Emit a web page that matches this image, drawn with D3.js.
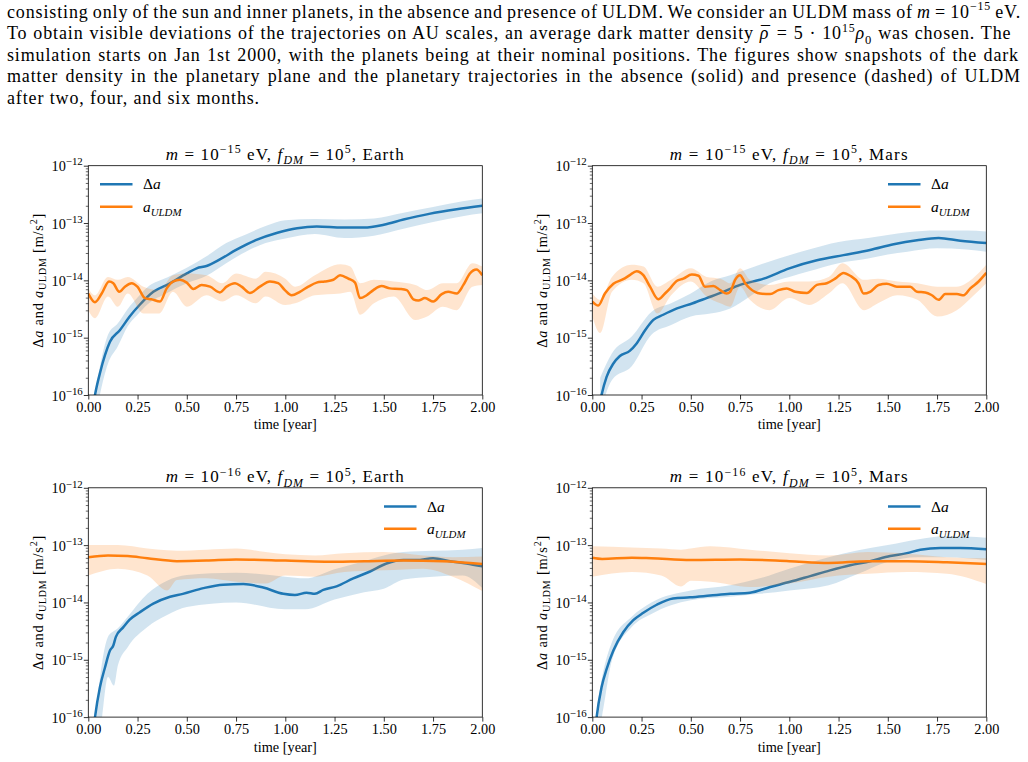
<!DOCTYPE html>
<html>
<head>
<meta charset="utf-8">
<script src="https://cdn.jsdelivr.net/npm/d3@7"></script>
<style>
body { margin: 0; background: #fff; }
svg { display: block; }
text { font-family: "Liberation Serif", "Times New Roman", serif; fill: #000; }
</style>
</head>
<body>
<svg id="fig" width="1028" height="762"></svg>
<script>
// all accelerations are log10 of m/s^2
// lines: [time, log10 a], bands: [time, log10 low, log10 high]
var earth15Delta = [[0.02,-16.3],[0.034,-16.0],[0.059,-15.62],[0.085,-15.3],[0.11,-15.07],[0.16,-14.87],[0.21,-14.63],[0.26,-14.43],[0.33,-14.2],[0.41,-14.06],[0.5,-13.88],[0.55,-13.79],[0.6,-13.75],[0.67,-13.63],[0.75,-13.47],[0.85,-13.3],[0.96,-13.17],[1.06,-13.09],[1.16,-13.06],[1.29,-13.08],[1.4,-13.08],[1.5,-13.03],[1.6,-12.94],[1.73,-12.84],[1.87,-12.76],[2.0,-12.7]];
var earth15DeltaBand = [[0.04,-16.3,-15.85],[0.1,-15.45,-14.95],[0.15,-15.15,-14.75],[0.2,-14.8,-14.5],[0.25,-14.6,-14.3],[0.3,-14.42,-14.12],[0.4,-14.22,-13.95],[0.5,-14.05,-13.78],[0.6,-13.92,-13.58],[0.7,-13.7,-13.35],[0.8,-13.5,-13.2],[0.9,-13.35,-13.05],[1.0,-13.27,-12.95],[1.15,-13.19,-12.93],[1.3,-13.26,-12.94],[1.45,-13.22,-12.92],[1.6,-13.1,-12.82],[1.75,-12.98,-12.72],[1.9,-12.88,-12.62],[2.0,-12.83,-12.57]];
var earth15Uldm = [[0,-14.23],[0.034,-14.38],[0.068,-14.23],[0.105,-14.02],[0.127,-14.05],[0.157,-14.2],[0.186,-14.11],[0.22,-14.05],[0.249,-14.11],[0.288,-14.31],[0.32,-14.33],[0.364,-14.37],[0.398,-14.14],[0.431,-14.02],[0.465,-13.99],[0.5,-14.04],[0.533,-14.15],[0.575,-14.08],[0.618,-14.11],[0.668,-14.21],[0.702,-14.11],[0.745,-14.05],[0.778,-14.11],[0.82,-14.22],[0.871,-14.11],[0.922,-14.02],[0.964,-14.05],[0.998,-14.17],[1.032,-14.26],[1.074,-14.2],[1.117,-14.11],[1.159,-14.04],[1.2,-14.02],[1.244,-13.99],[1.278,-13.91],[1.32,-13.97],[1.354,-14.04],[1.379,-14.31],[1.413,-14.26],[1.447,-14.17],[1.489,-14.1],[1.531,-14.14],[1.582,-14.15],[1.616,-14.17],[1.65,-14.33],[1.675,-14.35],[1.709,-14.31],[1.751,-14.37],[1.794,-14.24],[1.827,-14.2],[1.87,-14.23],[1.904,-14.08],[1.937,-13.88],[1.97,-13.81],[2.0,-13.91]];
var earth15UldmBand = [[0,-14.52,-14.14],[0.034,-14.66,-14.26],[0.1,-14.28,-13.94],[0.15,-14.46,-13.99],[0.2,-14.23,-13.94],[0.28,-14.58,-14.11],[0.36,-14.58,-14.17],[0.43,-14.2,-13.91],[0.5,-14.46,-13.88],[0.6,-14.26,-13.91],[0.68,-14.37,-14.05],[0.75,-14.26,-13.88],[0.85,-14.4,-13.97],[0.9,-14.28,-13.85],[1.0,-14.43,-13.97],[1.05,-14.4,-14.11],[1.15,-14.26,-13.91],[1.28,-14.23,-13.72],[1.33,-14.2,-13.76],[1.38,-14.6,-14.05],[1.45,-14.4,-13.99],[1.55,-14.28,-14.02],[1.66,-14.69,-14.08],[1.72,-14.63,-14.17],[1.8,-14.46,-14.05],[1.87,-14.52,-14.05],[1.95,-14.11,-13.7],[2.0,-14.08,-13.76]];

var mars15Delta = [[0.03,-16.3],[0.047,-16.0],[0.073,-15.68],[0.107,-15.45],[0.14,-15.32],[0.19,-15.23],[0.225,-15.1],[0.268,-14.87],[0.31,-14.69],[0.36,-14.6],[0.43,-14.49],[0.51,-14.4],[0.58,-14.31],[0.665,-14.2],[0.75,-14.08],[0.87,-13.97],[1.0,-13.79],[1.14,-13.65],[1.275,-13.56],[1.41,-13.47],[1.53,-13.37],[1.648,-13.3],[1.758,-13.26],[1.868,-13.31],[2.0,-13.35]];
var mars15DeltaBand = [[0.04,-16.3,-15.7],[0.1,-15.74,-15.27],[0.2,-15.5,-14.98],[0.3,-14.95,-14.55],[0.4,-14.78,-14.4],[0.5,-14.63,-14.23],[0.6,-14.58,-14.02],[0.7,-14.49,-13.91],[0.8,-14.28,-13.79],[0.9,-14.05,-13.67],[1.0,-13.94,-13.56],[1.1,-13.84,-13.46],[1.25,-13.7,-13.33],[1.4,-13.62,-13.26],[1.5,-13.55,-13.21],[1.6,-13.5,-13.16],[1.75,-13.44,-13.13],[1.9,-13.46,-13.13],[2.0,-13.5,-13.15]];
var mars15Uldm = [[0,-14.37],[0.03,-14.44],[0.064,-14.23],[0.107,-14.06],[0.157,-13.98],[0.19,-13.91],[0.225,-13.84],[0.259,-13.91],[0.293,-14.11],[0.335,-14.33],[0.369,-14.23],[0.395,-14.14],[0.428,-14.01],[0.462,-13.97],[0.505,-13.9],[0.539,-13.92],[0.572,-14.11],[0.615,-14.1],[0.649,-14.17],[0.682,-14.23],[0.7,-14.2],[0.725,-13.99],[0.75,-13.91],[0.776,-14.05],[0.8,-14.14],[0.852,-14.23],[0.903,-14.24],[0.945,-14.17],[0.987,-14.14],[1.03,-14.2],[1.089,-14.22],[1.14,-14.08],[1.19,-14.05],[1.233,-13.97],[1.275,-13.87],[1.309,-13.92],[1.351,-14.05],[1.377,-14.23],[1.41,-14.2],[1.453,-14.08],[1.495,-14.06],[1.546,-14.11],[1.614,-14.11],[1.648,-14.2],[1.69,-14.21],[1.724,-14.26],[1.758,-14.34],[1.792,-14.24],[1.851,-14.24],[1.885,-14.26],[1.919,-14.14],[1.961,-14.02],[2.0,-13.87]];
var mars15UldmBand = [[0,-14.63,-14.23],[0.04,-14.92,-14.34],[0.1,-14.2,-13.94],[0.2,-13.99,-13.73],[0.26,-14.05,-13.76],[0.33,-14.58,-14.11],[0.4,-14.26,-13.99],[0.5,-14.02,-13.79],[0.58,-14.28,-13.94],[0.65,-14.4,-13.97],[0.7,-14.46,-14.05],[0.75,-14.11,-13.79],[0.8,-14.34,-13.99],[0.9,-14.52,-14.08],[1.0,-14.31,-14.02],[1.1,-14.43,-14.02],[1.2,-14.23,-13.94],[1.27,-14.05,-13.7],[1.38,-14.52,-13.99],[1.45,-14.4,-13.97],[1.55,-14.26,-14.02],[1.65,-14.34,-14.05],[1.75,-14.63,-14.11],[1.85,-14.52,-14.11],[1.93,-14.28,-13.97],[2.0,-14.05,-13.73]];

var earth16Delta = [[0.02,-16.4],[0.034,-16.0],[0.059,-15.48],[0.085,-15.13],[0.11,-14.84],[0.127,-14.75],[0.14,-14.6],[0.178,-14.43],[0.21,-14.3],[0.262,-14.17],[0.33,-14.02],[0.415,-13.9],[0.48,-13.85],[0.584,-13.75],[0.685,-13.69],[0.787,-13.68],[0.888,-13.74],[0.99,-13.85],[1.049,-13.87],[1.108,-13.83],[1.15,-13.85],[1.193,-13.78],[1.26,-13.72],[1.345,-13.58],[1.43,-13.46],[1.514,-13.32],[1.6,-13.26],[1.667,-13.26],[1.75,-13.23],[1.836,-13.28],[1.92,-13.32],[2.0,-13.37]];
var earth16DeltaBand = [[0.04,-16.3,-15.9],[0.06,-16.2,-15.3],[0.1,-15.3,-14.6],[0.13,-15.45,-14.5],[0.15,-15.1,-14.45],[0.2,-14.78,-14.25],[0.3,-14.43,-13.85],[0.4,-14.22,-13.62],[0.5,-14.08,-13.52],[0.75,-14.0,-13.48],[1.0,-14.12,-13.55],[1.1,-14.12,-13.58],[1.25,-13.95,-13.42],[1.4,-13.82,-13.28],[1.5,-13.76,-13.18],[1.6,-13.6,-13.12],[1.75,-13.55,-13.1],[1.9,-13.53,-13.08],[2.0,-13.75,-13.05]];
var earth16Uldm = [[0,-13.21],[0.1,-13.18],[0.2,-13.19],[0.3,-13.23],[0.45,-13.28],[0.6,-13.27],[0.75,-13.25],[1.0,-13.27],[1.2,-13.29],[1.4,-13.28],[1.6,-13.27],[1.8,-13.28],[2.0,-13.33]];
var earth16UldmBand = [[0,-13.53,-13.0],[0.15,-13.41,-13.0],[0.3,-13.53,-13.06],[0.4,-13.79,-13.09],[0.45,-13.61,-13.1],[0.6,-13.58,-13.08],[0.75,-13.64,-13.06],[0.9,-13.67,-13.12],[1.0,-13.53,-13.16],[1.15,-13.55,-13.18],[1.3,-13.47,-13.14],[1.5,-13.44,-13.12],[1.7,-13.41,-13.18],[1.85,-13.55,-13.21],[2.0,-13.8,-13.2]];

var mars16Delta = [[0.01,-16.4],[0.022,-16.0],[0.047,-15.48],[0.073,-15.16],[0.107,-14.84],[0.157,-14.52],[0.208,-14.31],[0.259,-14.18],[0.327,-14.04],[0.41,-13.93],[0.496,-13.91],[0.598,-13.88],[0.7,-13.85],[0.8,-13.83],[0.903,-13.73],[1.004,-13.64],[1.106,-13.54],[1.207,-13.44],[1.309,-13.35],[1.41,-13.28],[1.512,-13.19],[1.597,-13.14],[1.665,-13.08],[1.766,-13.05],[1.868,-13.05],[2.0,-13.07]];
var mars16DeltaBand = [[0.03,-16.3,-15.7],[0.05,-15.97,-15.3],[0.1,-15.01,-14.69],[0.2,-14.43,-14.25],[0.3,-14.2,-14.0],[0.5,-13.96,-13.79],[0.7,-13.9,-13.7],[0.85,-13.85,-13.58],[1.0,-13.79,-13.41],[1.2,-13.7,-13.21],[1.35,-13.5,-13.09],[1.5,-13.29,-13.0],[1.65,-13.21,-12.9],[1.8,-13.21,-12.84],[2.0,-13.26,-12.87]];
var mars16Uldm = [[0,-13.22],[0.05,-13.24],[0.2,-13.22],[0.3,-13.23],[0.5,-13.26],[0.75,-13.25],[1.0,-13.28],[1.2,-13.31],[1.4,-13.28],[1.6,-13.28],[1.8,-13.3],[2.0,-13.33]];
var mars16UldmBand = [[0,-13.55,-13.02],[0.2,-13.47,-13.04],[0.35,-13.53,-13.06],[0.45,-13.72,-13.08],[0.5,-13.62,-13.06],[0.6,-13.64,-13.02],[0.8,-13.73,-13.08],[1.0,-13.67,-13.14],[1.2,-13.55,-13.18],[1.4,-13.5,-13.12],[1.6,-13.47,-13.15],[1.8,-13.5,-13.21],[2.0,-13.68,-13.23]];

var timeTicks = [0, 0.25, 0.5, 0.75, 1, 1.25, 1.5, 1.75, 2];
var decadeTicks = [1e-16, 1e-15, 1e-14, 1e-13, 1e-12];
var decadeLabels = ["−16", "−15", "−14", "−13", "−12"];
var minorTicks = [];
decadeTicks.slice(0, 4).forEach(function(d){
    [2,3,4,5,6,7,8,9].forEach(function(m){ minorTicks.push(d * m); });
});

// [text, style, dx in em]
var captionLines = [
    [["consisting only of the sun and inner planets, in the absence and presence of ULDM. We consider an ULDM mass of "],["m","i"],[" = 10"],["−15","sup"],[" eV."]],
    [["To obtain visible deviations of the trajectories on AU scales, an average dark matter density "],["ρ","i"],["¯","",-0.46],[" = 5 · 10"],["15","sup"],["ρ","i"],["0","sub"],[" was chosen.  The"]],
    [["simulation starts on Jan 1st 2000, with the planets being at their nominal positions.  The figures show snapshots of the dark"]],
    [["matter density in the planetary plane and the planetary trajectories in the absence (solid) and presence (dashed) of ULDM"]],
    [["after two, four, and six months."]]
];

var blue = "#1f77b4", orange = "#ff7f0e";

var panels = [
    {mass: "−15", planet: "Earth", delta: earth15Delta, deltaBand: earth15DeltaBand, uldm: earth15Uldm, uldmBand: earth15UldmBand, left: 88.3, top: 165.7, legendLeft: true},
    {mass: "−15", planet: "Mars", delta: mars15Delta, deltaBand: mars15DeltaBand, uldm: mars15Uldm, uldmBand: mars15UldmBand, left: 592.3, top: 165.7, legendLeft: false},
    {mass: "−16", planet: "Earth", delta: earth16Delta, deltaBand: earth16DeltaBand, uldm: earth16Uldm, uldmBand: earth16UldmBand, left: 88.3, top: 487.8, legendLeft: false},
    {mass: "−16", planet: "Mars", delta: mars16Delta, deltaBand: mars16DeltaBand, uldm: mars16Uldm, uldmBand: mars16UldmBand, left: 592.3, top: 487.8, legendLeft: false}
];

var svg = d3.select("#fig");
var W = 394, H = 229.3;

// writes [text, style, dx] pieces as tspans, style: i, sup, sub, isub
function richText(sel, parts, size, supScale){
    var shift = 0;
    supScale = supScale || 0.7;
    parts.forEach(function(p){
        var st = p[1] || "";
        var target = 0, fs = size;
        if (st.indexOf("sup") >= 0){ target = -0.4 * size; fs = size * supScale; }
        if (st.indexOf("sub") >= 0){ target = 0.25 * size; fs = size * 0.7; }
        var ts = sel.append("tspan").text(p[0])
            .attr("dy", target - shift)
            .style("font-size", fs + "px");
        if (p[2]) ts.attr("dx", p[2] * size);
        if (st === "i" || st === "isub" || st === "isup") ts.style("font-style", "italic");
        shift = target;
    });
}

// stretch a text to a width: letter spacing ls, rest in word spacing (or all in letters)
function fitWidth(sel, target, ls){
    var node = sel.node();
    var natural = node.getComputedTextLength();
    var s = node.textContent;
    if (ls === undefined){
        var l = (target - natural) / s.length;
        sel.style("letter-spacing", l + "px");
        return l;
    }
    var n = (s.match(/ /g) || []).length;
    sel.style("letter-spacing", ls + "px")
       .style("word-spacing", ((target - natural - ls * s.length) / n) + "px");
}

// caption text on top, last line first to get the letter spacing
var capTexts = captionLines.map(function(parts, i){
    var t = svg.append("text")
        .attr("x", 7)
        .attr("y", 17.5 + i * 21.5)
        .style("font-size", "18px");
    richText(t, parts, 18, 0.66);
    return t;
});
var capLs = fitWidth(capTexts[4], 253);
capTexts.slice(0, 4).forEach(function(t){ fitWidth(t, 1014, capLs); });

panels.forEach(function(p, k){
    var g = svg.append("g").attr("transform", "translate(" + p.left + "," + p.top + ")");
    var x = d3.scaleLinear().domain([0, 2]).range([0, W]);
    var y = d3.scaleLog().domain([1e-16, 1e-12]).range([H, 0]);

    g.append("clipPath").attr("id", "clip" + k)
        .append("rect").attr("width", W).attr("height", H);
    var plot = g.append("g").attr("clip-path", "url(#clip" + k + ")");

    var line = d3.line()
        .x(function(d){ return x(d[0]); })
        .y(function(d){ return y(Math.pow(10, d[1])); })
        .curve(d3.curveMonotoneX);
    var band = d3.area()
        .x(function(d){ return x(d[0]); })
        .y0(function(d){ return y(Math.pow(10, d[1])); })
        .y1(function(d){ return y(Math.pow(10, d[2])); })
        .curve(d3.curveMonotoneX);

    plot.append("path").datum(p.deltaBand).attr("d", band)
        .attr("fill", blue).attr("fill-opacity", 0.2);
    plot.append("path").datum(p.delta).attr("d", line)
        .attr("fill", "none").attr("stroke", blue).attr("stroke-width", 2.5);
    plot.append("path").datum(p.uldmBand).attr("d", band)
        .attr("fill", orange).attr("fill-opacity", 0.2);
    plot.append("path").datum(p.uldm).attr("d", line)
        .attr("fill", "none").attr("stroke", orange).attr("stroke-width", 2.5);

    // x axis
    var xa = g.append("g").attr("transform", "translate(0," + H + ")")
        .call(d3.axisBottom(x).tickValues(timeTicks).tickFormat(d3.format(".2f")).tickSize(4.5));
    xa.select(".domain").remove();
    xa.selectAll("line").attr("stroke", "#000").attr("stroke-width", 0.8);
    xa.selectAll("text").attr("y", 16.5).attr("dy", 0)
        .attr("font-family", null).style("font-size", "14.3px");

    // y axis, minor then major
    var ym = g.append("g")
        .call(d3.axisLeft(y).tickValues(minorTicks).tickFormat("").tickSize(2.5));
    ym.select(".domain").remove();
    ym.selectAll("line").attr("stroke", "#000").attr("stroke-width", 0.6);
    var ya = g.append("g")
        .call(d3.axisLeft(y).tickValues(decadeTicks).tickFormat("").tickSize(4.5));
    ya.select(".domain").remove();
    ya.selectAll("line").attr("stroke", "#000").attr("stroke-width", 0.8);
    ya.selectAll(".tick").each(function(d, i){
        var t = d3.select(this).append("text")
            .attr("x", -5.5).attr("y", 5)
            .attr("text-anchor", "end");
        richText(t, [["10"], [decadeLabels[i], "sup"]], 14.3, 0.76);
    });

    // frame
    g.append("rect").attr("width", W).attr("height", H)
        .attr("fill", "none").attr("stroke", "#000").attr("stroke-width", 0.8);

    // title
    var title = g.append("text")
        .attr("x", W / 2).attr("y", -5.5)
        .attr("text-anchor", "middle");
    richText(title, [["m", "i"], [" = 10"], [p.mass, "sup"], [" eV, "], ["f", "i"], ["DM", "isub"], [" = 10"], ["5", "sup"], [", " + p.planet]], 17);
    fitWidth(title, 239);

    // labels
    var xl = g.append("text")
        .attr("x", W / 2).attr("y", H + 34.5)
        .attr("text-anchor", "middle");
    richText(xl, [["time [year]"]], 14.3);

    var yl = g.append("text")
        .attr("transform", "translate(-45.5," + (H / 2) + ") rotate(-90)")
        .attr("text-anchor", "middle");
    richText(yl, [["Δ"], ["a", "i"], [" and "], ["a", "i"], ["ULDM", "sub"], [" [m/s"], ["2", "sup"], ["]"]], 14.3);
    fitWidth(yl, 135);

    // legend
    var lx = p.legendLeft ? 11.7 : W - 98.3;
    var entries = [
        {color: blue, parts: [["Δ"], ["a", "i"]]},
        {color: orange, parts: [["a", "i"], ["ULDM", "isub"]]}
    ];
    entries.forEach(function(e, i){
        var ly = 18.6 + i * 22.4;
        g.append("line")
            .attr("x1", lx).attr("x2", lx + 32.5)
            .attr("y1", ly).attr("y2", ly)
            .attr("stroke", e.color).attr("stroke-width", 2.5);
        var t = g.append("text")
            .attr("x", lx + 43).attr("y", ly + 5.2);
        richText(t, e.parts, 15.5);
    });
});
</script>
</body>
</html>
